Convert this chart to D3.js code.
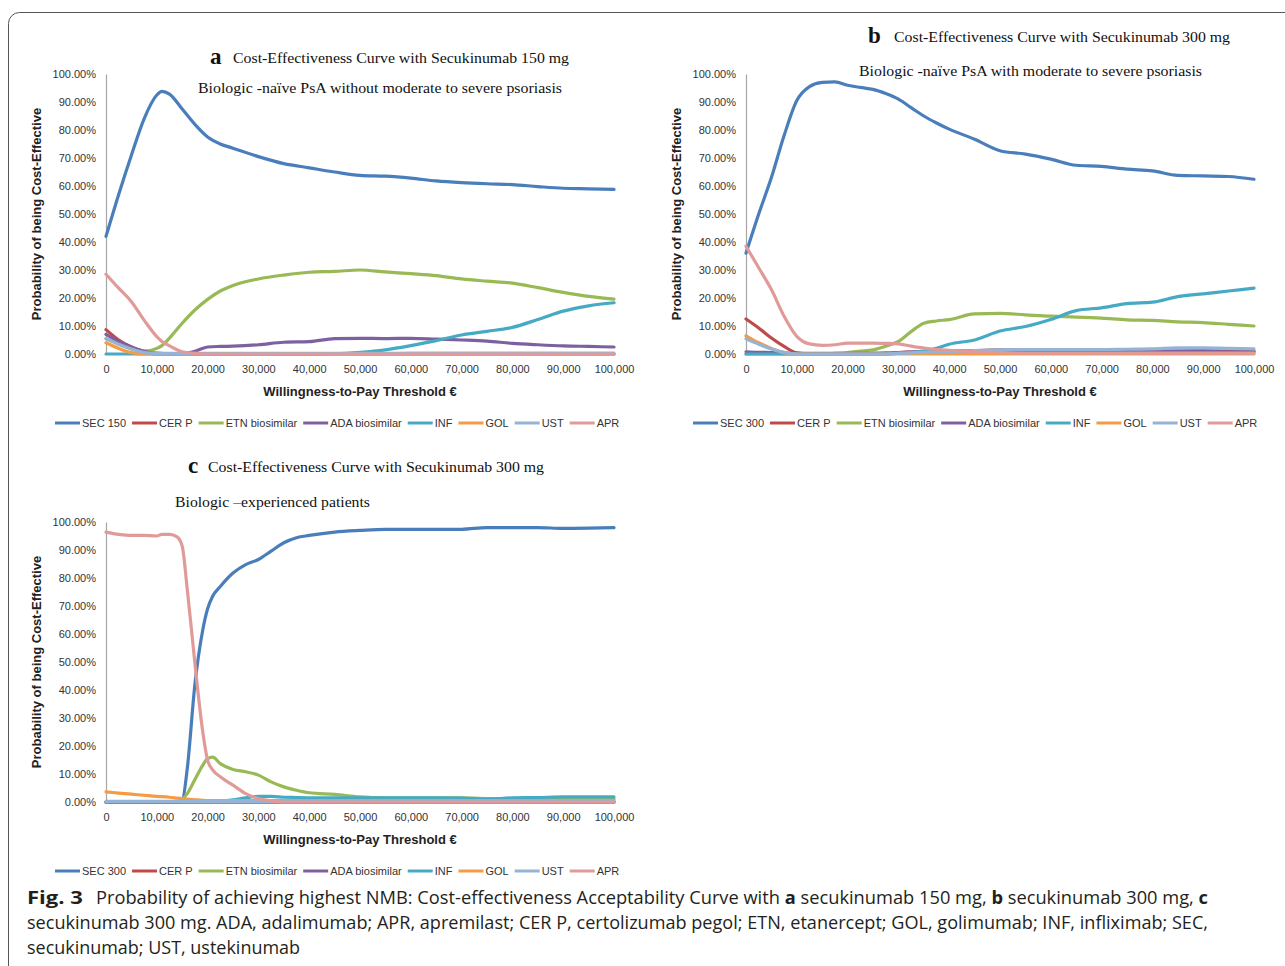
<!DOCTYPE html>
<html>
<head>
<meta charset="utf-8">
<script src="https://cdn.jsdelivr.net/npm/d3@7"></script>
<style>
  body { margin: 0; background: #fff; }
  svg { display: block; }
</style>
</head>
<body>
<svg id="fig" width="1285" height="966"></svg>
<script>
// series names and colours (Excel 2010 palette)
const seriesNames = ["SEC", "CER P", "ETN biosimilar", "ADA biosimilar", "INF", "GOL", "UST", "APR"];
const seriesColors = ["#4a7ebb", "#be4b48", "#98b954", "#7d60a0", "#46aac5", "#f59b44", "#95b3d7", "#e09b99"];

const yTicks = [0, 10, 20, 30, 40, 50, 60, 70, 80, 90, 100];
const xTicks = [0, 10000, 20000, 30000, 40000, 50000, 60000, 70000, 80000, 90000, 100000];

// panel a : secukinumab 150 mg, x in thousands of euros, y in %
const gridA = [0, 2.5, 5, 7.5, 10, 11, 12.5, 15, 17.5, 20, 22.5, 25, 30, 35, 40, 45, 50, 55, 60, 65, 70, 75, 80, 85, 90, 95, 100];
const secA = [42, 57, 71, 84, 92.5, 93.8, 92.8, 87.5, 82, 77.5, 75, 73.5, 70.5, 68, 66.5, 65, 63.8, 63.5, 62.8, 61.8, 61.2, 60.8, 60.5, 59.8, 59.2, 59, 58.8];
const cerA = [8.7, 5, 2.5, 0.8, 0, 0, 0, 0, 0, 0, 0, 0, 0, 0, 0, 0, 0, 0, 0, 0, 0, 0, 0, 0, 0, 0, 0];
const etnA = [5.5, 3.5, 1.8, 1, 2, 3, 5.7, 11, 15.7, 19.5, 22.5, 24.5, 26.8, 28.2, 29.2, 29.5, 30, 29.3, 28.7, 28, 26.8, 26, 25.3, 23.7, 22, 20.6, 19.6];
const adaA = [7, 4.5, 2.5, 1, 0.3, 0.2, 0.1, 0.2, 1, 2.5, 2.7, 2.8, 3.3, 4.2, 4.4, 5.5, 5.6, 5.5, 5.6, 5.3, 5, 4.6, 3.8, 3.3, 2.9, 2.7, 2.5];
const infA = [0, 0, 0, 0, 0, 0, 0, 0, 0, 0, 0, 0, 0, 0, 0, 0.1, 0.6, 1.5, 3, 4.8, 6.8, 8.1, 9.5, 12.3, 15.3, 17.2, 18.3];
const golA = [4, 2, 0.5, 0, 0, 0, 0, 0, 0, 0, 0, 0, 0, 0, 0, 0, 0, 0, 0, 0, 0, 0, 0, 0, 0, 0, 0];
const ustA = [5.5, 3.5, 1.8, 0.5, 0.2, 0.2, 0.2, 0.2, 0.2, 0.2, 0.2, 0.2, 0.2, 0.2, 0.2, 0.2, 0.2, 0.2, 0.3, 0.3, 0.3, 0.3, 0.3, 0.3, 0.3, 0.3, 0.3];
const aprA = [28.5, 23.5, 18.7, 12.1, 6.2, 4.5, 2.9, 0.8, 0.2, 0, 0, 0, 0, 0, 0, 0, 0, 0, 0, 0, 0, 0, 0, 0, 0, 0, 0];

// panel b : secukinumab 300 mg, with psoriasis
const gridB = [0, 2.5, 5, 7.5, 10, 12.5, 15, 17.5, 20, 22.5, 25, 27.5, 30, 32.5, 35, 37.5, 40, 45, 50, 55, 60, 65, 70, 75, 80, 85, 90, 95, 100];
const secB = [36, 50, 63, 78, 90.5, 95.5, 97, 97.2, 96, 95.2, 94.5, 93, 91, 88, 85, 82.5, 80.3, 76.7, 72.6, 71.4, 69.6, 67.4, 67, 66, 65.4, 63.8, 63.6, 63.4, 62.4];
const cerB = [12.5, 9.3, 5.7, 2.7, 0.4, 0, 0, 0, 0, 0, 0, 0, 0.5, 0.7, 0.9, 1, 1, 1.2, 1.5, 1.3, 1, 1, 1, 1, 1, 1, 1.2, 1, 1];
const etnB = [0, 0, 0, 0, 0, 0, 0, 0.2, 0.5, 1, 1.5, 2.8, 4.5, 8, 11, 11.8, 12.3, 14.3, 14.5, 14, 13.5, 13.2, 12.8, 12.2, 12, 11.5, 11.2, 10.6, 10];
const adaB = [0.8, 0.6, 0.5, 0.3, 0.2, 0.2, 0.2, 0.2, 0.2, 0.2, 0.3, 0.4, 0.5, 0.7, 0.8, 1, 1, 1, 1.2, 1, 0.8, 0.8, 0.8, 0.8, 0.8, 1, 1, 0.8, 0.8];
const infB = [0, 0, 0, 0, 0, 0, 0, 0, 0, 0, 0, 0, 0.3, 0.5, 1, 2, 3.5, 5, 8.2, 9.8, 12.3, 15.5, 16.5, 18, 18.5, 20.5, 21.5, 22.5, 23.5];
const golB = [6.5, 4, 2, 0.5, 0, 0, 0, 0, 0, 0, 0, 0, 0, 0, 0, 0, 0, 0, 0, 0, 0, 0, 0, 0, 0, 0, 0, 0, 0];
const ustB = [5.4, 3.5, 1.8, 0.6, 0, 0, 0, 0, 0, 0, 0, 0, 0.2, 0.4, 0.6, 0.7, 0.8, 1.2, 1.5, 1.6, 1.6, 1.6, 1.6, 1.7, 1.8, 2.2, 2.2, 2, 1.8];
const aprB = [38.5, 30.8, 23, 13.5, 6.3, 3.6, 3.1, 3.3, 3.9, 3.9, 3.9, 3.8, 3.6, 2.8, 2.1, 1.6, 1.3, 0.8, 0.5, 0.3, 0.3, 0.3, 0.3, 0.3, 0.3, 0.3, 0.3, 0.3, 0.3];

// panel c : secukinumab 300 mg, biologic-experienced
const gridC = [0, 2.5, 5, 7.5, 10, 11, 12.5, 14, 15, 16, 17.5, 19, 20, 21, 22.5, 25, 27.5, 30, 32.5, 35, 37.5, 40, 45, 50, 55, 60, 65, 70, 75, 80, 85, 90, 95, 100];
const secC = [0, 0, 0, 0, 0, 0, 0, 0, 0.5, 12, 42, 61, 69, 73.5, 77, 81.8, 84.8, 86.6, 89.6, 92.6, 94.4, 95.2, 96.4, 97, 97.4, 97.4, 97.4, 97.4, 98, 98, 98, 97.7, 97.8, 98];
const cerC = [0, 0, 0, 0, 0, 0, 0, 0, 0, 0, 0, 0, 0, 0, 0, 0, 0, 0, 0, 0, 0, 0, 0, 0, 0, 0, 0, 0, 0, 0, 0, 0, 0, 0];
const etnC = [0, 0, 0, 0, 0, 0, 0, 0, 1, 3, 8, 13, 15.5, 16, 13.7, 11.6, 10.8, 9.6, 7.2, 5.4, 4.2, 3.3, 2.7, 1.8, 1.5, 1.5, 1.5, 1.5, 1.2, 1.2, 1.1, 1, 1, 1];
const adaC = [0, 0, 0, 0, 0, 0, 0, 0, 0, 0, 0, 0, 0, 0, 0, 0, 0, 0, 0, 0, 0, 0, 0, 0, 0, 0, 0, 0, 0, 0, 0, 0, 0, 0];
const infC = [0, 0, 0, 0, 0, 0, 0, 0, 0, 0, 0.1, 0.2, 0.3, 0.3, 0.4, 0.8, 1.5, 2, 2, 1.7, 1.6, 1.5, 1.5, 1.5, 1.5, 1.5, 1.5, 1.4, 1, 1.5, 1.6, 1.8, 1.8, 1.8];
const golC = [3.6, 3.2, 2.8, 2.4, 2, 1.9, 1.7, 1.4, 1.2, 1, 0.8, 0.6, 0.5, 0.5, 0.5, 0.5, 0.5, 0.5, 0.5, 0.5, 0.5, 0.5, 0.5, 0.5, 0.5, 0.5, 0.5, 0.5, 0.5, 0.5, 0.5, 0.5, 0.5, 0.5];
const ustC = [0.2, 0.2, 0.2, 0.2, 0.2, 0.2, 0.2, 0.2, 0.2, 0.2, 0.2, 0.2, 0.2, 0.2, 0.2, 0.2, 0.2, 0.2, 0.2, 0.2, 0.2, 0.2, 0.2, 0.2, 0.2, 0.2, 0.2, 0.2, 0.2, 0.2, 0.2, 0.2, 0.2, 0.2];
const aprC = [96.4, 95.6, 95.2, 95.2, 95, 95.6, 95.6, 94.7, 91.4, 75.9, 49.6, 25.7, 14.9, 11.5, 9, 6, 3, 1.2, 0.4, 0, 0, 0, 0, 0, 0, 0, 0, 0, 0, 0, 0, 0, 0, 0];

const svg = d3.select("#fig");
const sans = "'Liberation Sans', Arial, sans-serif";
const serif = "'Liberation Serif', 'Times New Roman', serif";

// frame round the figure
svg.append("rect")
  .attr("x", 8.5).attr("y", 12.5)
  .attr("width", 1300).attr("height", 1000)
  .attr("rx", 11)
  .attr("fill", "none").attr("stroke", "#555").attr("stroke-width", 1);

const panels = [
  { letter: "a", sec: "SEC 150", grid: gridA, values: [secA, cerA, etnA, adaA, infA, golA, ustA, aprA],
    left: 106, right: 614, top: 74, bottom: 354,
    title: "Cost-Effectiveness Curve with Secukinumab 150 mg", letterX: 210, titleX: 233, titleY: 63,
    sub: "Biologic -naïve PsA without moderate to severe psoriasis", subX: 198, subY: 93, subW: 364,
    legendY: 423, legendX: 55 },
  { letter: "b", sec: "SEC 300", grid: gridB, values: [secB, cerB, etnB, adaB, infB, golB, ustB, aprB],
    left: 746, right: 1254, top: 74, bottom: 354,
    title: "Cost-Effectiveness Curve with Secukinumab 300 mg", letterX: 868, titleX: 894, titleY: 42,
    sub: "Biologic -naïve PsA with moderate to severe psoriasis", subX: 859, subY: 76, subW: 343,
    legendY: 423, legendX: 693 },
  { letter: "c", sec: "SEC 300", grid: gridC, values: [secC, cerC, etnC, adaC, infC, golC, ustC, aprC],
    left: 106, right: 614, top: 522, bottom: 802,
    title: "Cost-Effectiveness Curve with Secukinumab 300 mg", letterX: 188, titleX: 208, titleY: 472,
    sub: "Biologic \u2013experienced patients", subX: 175, subY: 507, subW: 195,
    legendY: 871, legendX: 55 }
];

panels.forEach(p => {
  const x = d3.scaleLinear().domain([0, 100000]).range([p.left, p.right]);
  const y = d3.scaleLinear().domain([0, 100]).range([p.bottom, p.top]);
  const g = svg.append("g");

  // y axis
  const yAxis = g.append("g")
    .attr("transform", `translate(${p.left},0)`)
    .call(d3.axisLeft(y).tickValues(yTicks).tickSize(0).tickPadding(10)
      .tickFormat(d => d.toFixed(2) + "%"));
  // x axis
  const xAxis = g.append("g")
    .attr("transform", `translate(0,${p.bottom})`)
    .call(d3.axisBottom(x).tickValues(xTicks).tickSize(0).tickPadding(11)
      .tickFormat(d3.format(",")));
  [yAxis, xAxis].forEach(a => {
    a.select(".domain").attr("stroke", "#a6a6a6").attr("stroke-width", 1.2);
    a.selectAll("text").attr("font-family", sans).attr("font-size", 11).attr("fill", "#333");
  });

  // axis titles
  g.append("text")
    .attr("x", (p.left + p.right) / 2).attr("y", p.bottom + 42)
    .attr("text-anchor", "middle")
    .attr("font-family", sans).attr("font-size", 13).attr("font-weight", "bold").attr("fill", "#222")
    .text("Willingness-to-Pay Threshold €");
  g.append("text")
    .attr("transform", `translate(${p.left - 70},${(p.top + p.bottom) / 2}) rotate(-90)`)
    .attr("text-anchor", "middle").attr("dy", "0.35em")
    .attr("font-family", sans).attr("font-size", 13).attr("font-weight", "bold").attr("fill", "#222")
    .text("Probability of being Cost-Effective");

  // titles
  g.append("text")
    .attr("x", p.letterX).attr("y", p.titleY + 1)
    .attr("font-family", serif).attr("font-size", 23).attr("font-weight", "bold").attr("fill", "#111")
    .text(p.letter);
  g.append("text")
    .attr("x", p.titleX).attr("y", p.titleY)
    .attr("font-family", serif).attr("font-size", 15).attr("fill", "#111")
    .attr("textLength", 336).attr("lengthAdjust", "spacingAndGlyphs")
    .text(p.title);
  g.append("text")
    .attr("x", p.subX).attr("y", p.subY)
    .attr("font-family", serif).attr("font-size", 15.5).attr("fill", "#111")
    .attr("textLength", p.subW).attr("lengthAdjust", "spacingAndGlyphs")
    .text(p.sub);

  // lines
  const line = d3.line()
    .x(d => x(d[0] * 1000))
    .y(d => y(d[1]))
    .curve(d3.curveMonotoneX);
  p.values.forEach((vals, i) => {
    const pts = p.grid.map((k, j) => [k, vals[j]]);
    g.append("path")
      .datum(pts)
      .attr("d", line)
      .attr("fill", "none")
      .attr("stroke", seriesColors[i])
      .attr("stroke-width", 3.2)
      .attr("stroke-linejoin", "round")
      .attr("stroke-linecap", "round");
  });

  // legend
  const names = seriesNames.map((n, i) => i === 0 ? p.sec : n);
  let lx = p.legendX;
  names.forEach((n, i) => {
    g.append("line")
      .attr("x1", lx).attr("x2", lx + 25)
      .attr("y1", p.legendY).attr("y2", p.legendY)
      .attr("stroke", seriesColors[i]).attr("stroke-width", 3);
    const t = g.append("text")
      .attr("x", lx + 27).attr("y", p.legendY + 4)
      .attr("font-family", sans).attr("font-size", 11).attr("fill", "#333")
      .text(n);
    lx += 27 + t.node().getComputedTextLength() + 6;
  });
});

// caption
const cap = svg.append("g").attr("font-family", "'Open Sans', 'Noto Sans', sans-serif").attr("fill", "#231f20");
cap.append("text").attr("x", 27).attr("y", 904).attr("font-size", 18).attr("font-weight", "bold")
  .attr("textLength", 56).attr("lengthAdjust", "spacingAndGlyphs").text("Fig. 3");
const l1 = cap.append("text").attr("x", 96).attr("y", 904).attr("font-size", 18)
  .attr("textLength", 1112).attr("lengthAdjust", "spacingAndGlyphs");
l1.append("tspan").text("Probability of achieving highest NMB: Cost-effectiveness Acceptability Curve with ");
l1.append("tspan").attr("font-weight", "bold").text("a");
l1.append("tspan").text(" secukinumab 150 mg, ");
l1.append("tspan").attr("font-weight", "bold").text("b");
l1.append("tspan").text(" secukinumab 300 mg, ");
l1.append("tspan").attr("font-weight", "bold").text("c");
cap.append("text").attr("x", 27).attr("y", 929).attr("font-size", 18)
  .attr("textLength", 1181).attr("lengthAdjust", "spacingAndGlyphs")
  .text("secukinumab 300 mg. ADA, adalimumab; APR, apremilast; CER P, certolizumab pegol; ETN, etanercept; GOL, golimumab; INF, infliximab; SEC,");
cap.append("text").attr("x", 27).attr("y", 954).attr("font-size", 18)
  .attr("textLength", 273).attr("lengthAdjust", "spacingAndGlyphs")
  .text("secukinumab; UST, ustekinumab");
</script>
</body>
</html>
